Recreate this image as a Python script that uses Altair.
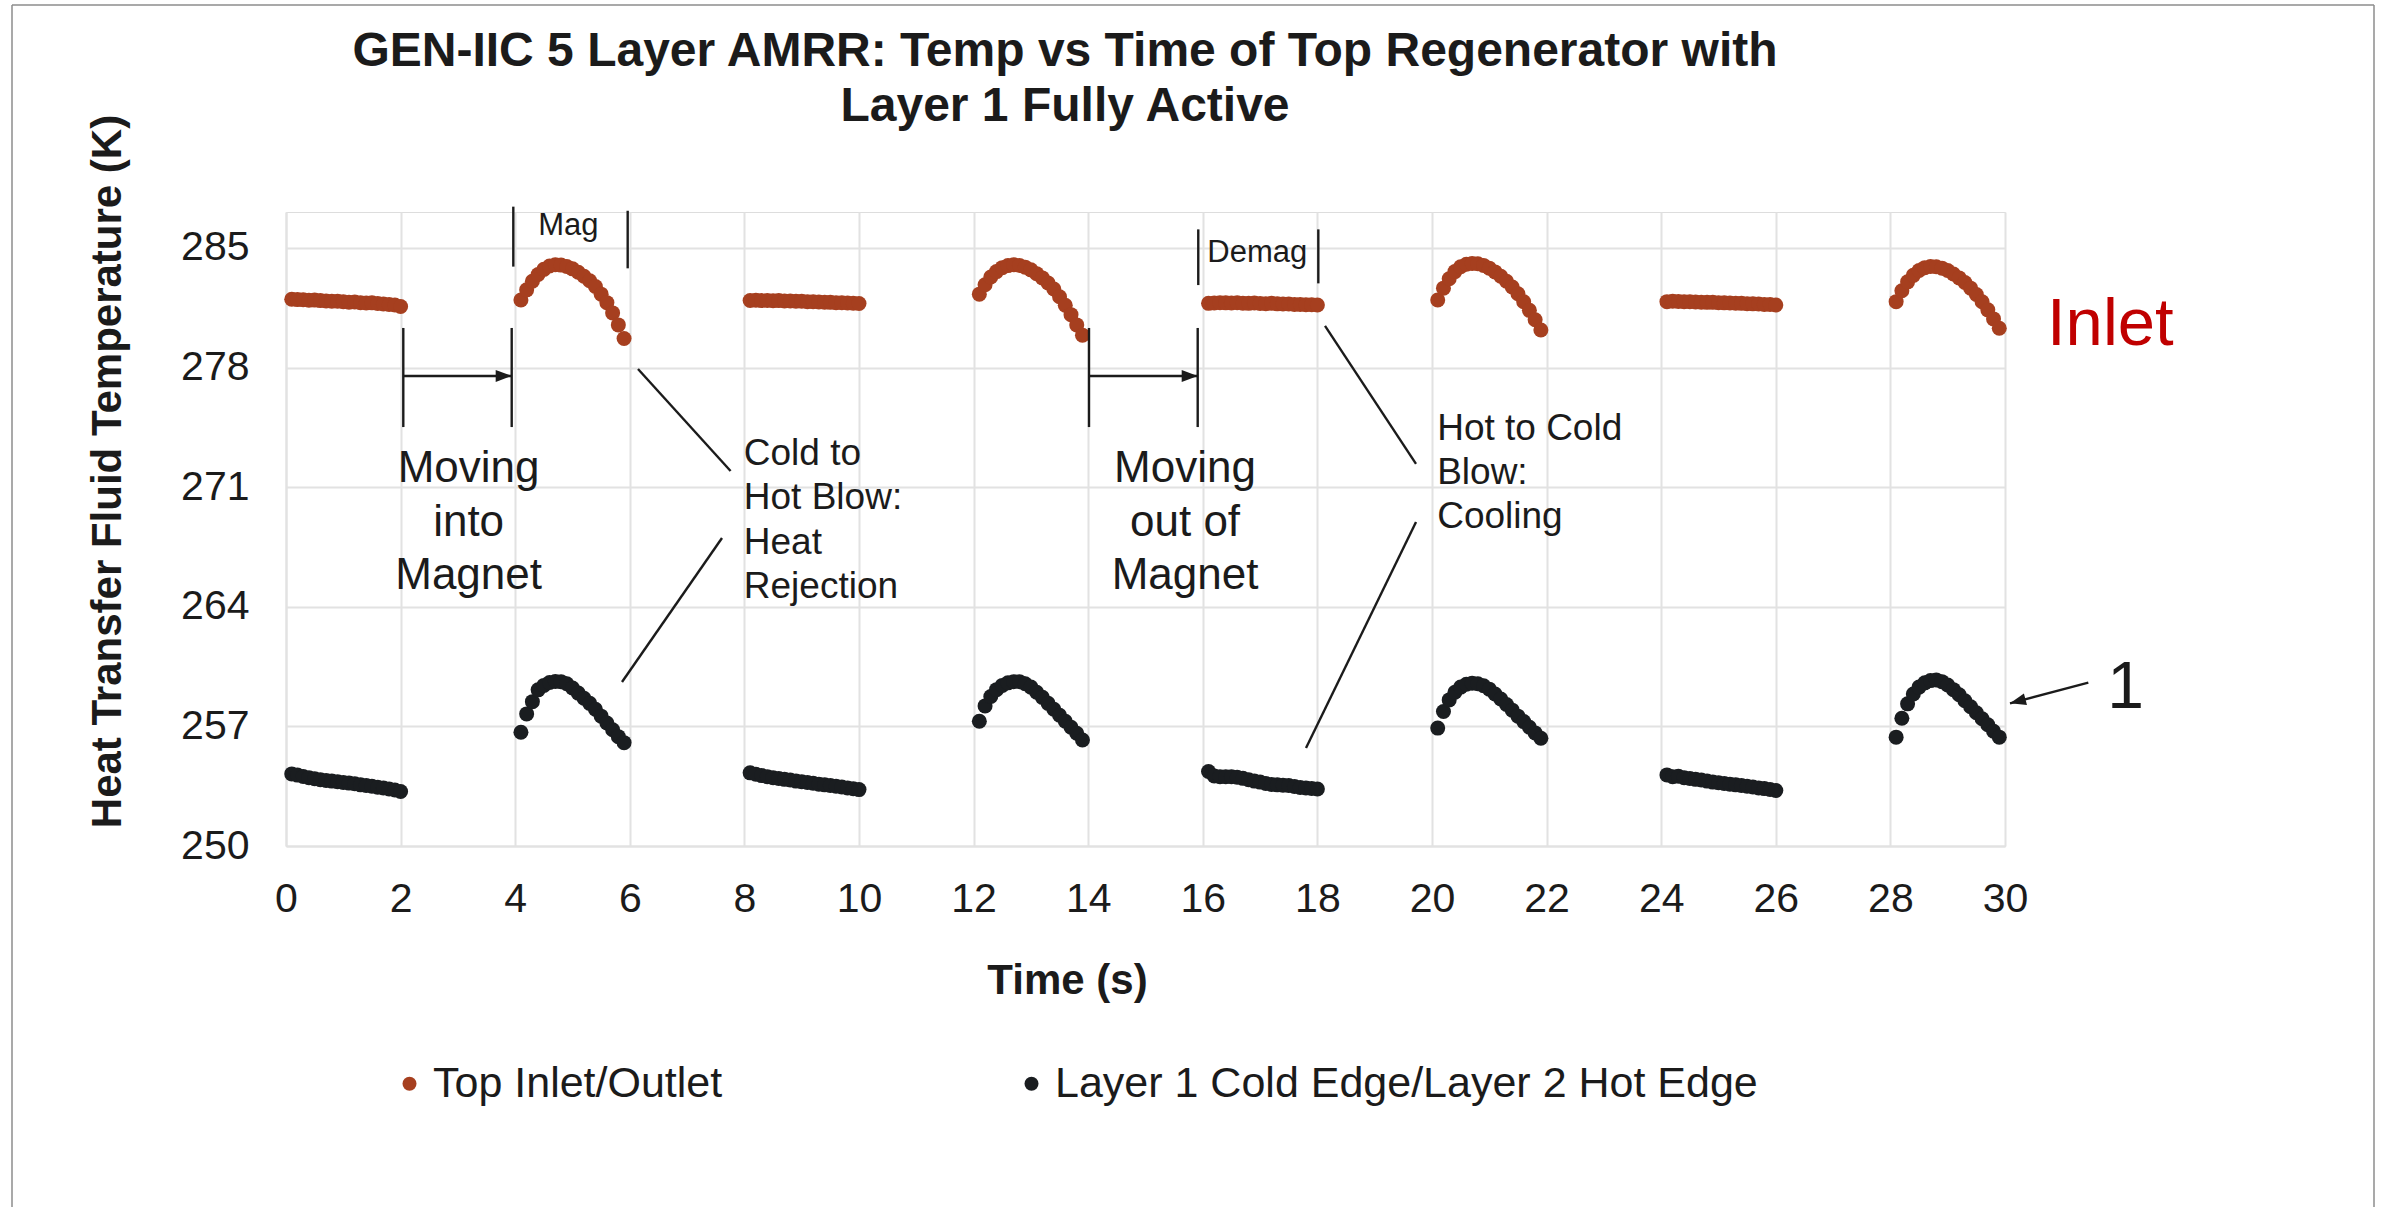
import altair as alt
import pandas as pd

FONT = "Liberation Sans, Arial, Helvetica, sans-serif"
INK = "#1b1b1b"
ORANGE = "#A63F1F"
BLACK = "#1A1D20"
RED = "#C00000"
GRID = "#E2E2E2"
FRAME = "#8C8C8C"

SERIES = ["Top Inlet/Outlet", "Layer 1 Cold Edge/Layer 2 Hot Edge"]
X_TICKS = [0, 2, 4, 6, 8, 10, 12, 14, 16, 18, 20, 22, 24, 26, 28, 30]
Y_TICKS = [250, 257, 264, 271, 278, 285]

TITLE_LINES = ["GEN-IIC 5 Layer AMRR: Temp vs Time of Top Regenerator with",
               "Layer 1 Fully Active"]

# Each 2 s blow period starts at one of these times; flat periods (hold) and
# peaked periods alternate.
SEGMENT_START = [0, 4, 8, 12, 16, 20, 24, 28]
FLAT_OFFSETS = [0.1, 0.2, 0.3, 0.4, 0.5, 0.6, 0.7, 0.8, 0.9, 1.0,
                1.1, 1.2, 1.3, 1.4, 1.5, 1.6, 1.7, 1.8, 1.9, 2.0]
PEAK_OFFSETS = [0.1, 0.2, 0.3, 0.4, 0.5, 0.6, 0.7, 0.8, 0.9, 1.0,
                1.1, 1.2, 1.3, 1.4, 1.5, 1.6, 1.7, 1.8, 1.9]

# Top inlet/outlet temperature (K)
TOP_0 = [282.00, 281.98, 281.97, 281.94, 281.95, 281.92, 281.90, 281.88, 281.89, 281.85,
         281.83, 281.84, 281.80, 281.78, 281.79, 281.75, 281.72, 281.70, 281.66, 281.58]
TOP_4 = [281.96, 282.55, 283.05, 283.45, 283.75, 283.95, 284.02, 284.00, 283.92, 283.78,
         283.58, 283.35, 283.08, 282.75, 282.30, 281.80, 281.20, 280.50, 279.70]
TOP_8 = [281.93, 281.94, 281.92, 281.93, 281.91, 281.92, 281.90, 281.90, 281.88, 281.89,
         281.86, 281.86, 281.84, 281.83, 281.82, 281.80, 281.80, 281.78, 281.77, 281.75]
TOP_12 = [282.30, 282.85, 283.30, 283.62, 283.85, 283.97, 284.02, 283.98, 283.88, 283.72,
          283.50, 283.25, 282.95, 282.60, 282.15, 281.65, 281.10, 280.50, 279.90]
TOP_16 = [281.76, 281.78, 281.80, 281.79, 281.78, 281.80, 281.77, 281.76, 281.78, 281.75,
          281.74, 281.76, 281.73, 281.72, 281.72, 281.70, 281.70, 281.68, 281.68, 281.66]
TOP_20 = [281.96, 282.65, 283.20, 283.62, 283.90, 284.05, 284.10, 284.08, 283.98, 283.82,
          283.60, 283.35, 283.05, 282.72, 282.32, 281.85, 281.35, 280.80, 280.20]
TOP_24 = [281.86, 281.88, 281.87, 281.85, 281.86, 281.84, 281.83, 281.82, 281.82, 281.80,
          281.79, 281.78, 281.77, 281.76, 281.74, 281.73, 281.72, 281.70, 281.69, 281.66]
TOP_28 = [281.86, 282.50, 283.02, 283.40, 283.68, 283.85, 283.92, 283.90, 283.82, 283.68,
          283.48, 283.25, 282.98, 282.65, 282.28, 281.85, 281.38, 280.85, 280.30]

# Layer 1 cold edge / layer 2 hot edge temperature (K)
L1_0 = [254.22, 254.15, 254.07, 254.00, 253.94, 253.88, 253.84, 253.80, 253.76, 253.72,
        253.68, 253.64, 253.58, 253.54, 253.50, 253.44, 253.40, 253.34, 253.28, 253.19]
L1_4 = [256.66, 257.73, 258.45, 259.14, 259.40, 259.57, 259.63, 259.62, 259.50, 259.25,
        258.95, 258.65, 258.35, 258.00, 257.60, 257.20, 256.80, 256.40, 256.05]
L1_8 = [254.28, 254.20, 254.12, 254.06, 254.00, 253.95, 253.90, 253.86, 253.80, 253.76,
        253.72, 253.67, 253.62, 253.58, 253.54, 253.50, 253.45, 253.40, 253.35, 253.30]
L1_12 = [257.30, 258.20, 258.75, 259.15, 259.40, 259.55, 259.62, 259.62, 259.50, 259.30,
         259.00, 258.70, 258.35, 258.00, 257.65, 257.30, 256.95, 256.60, 256.20]
L1_16 = [254.36, 254.10, 254.06, 254.05, 254.06, 254.02, 253.96, 253.88, 253.80, 253.74,
         253.66, 253.60, 253.58, 253.56, 253.54, 253.48, 253.42, 253.40, 253.37, 253.34]
L1_20 = [256.90, 257.87, 258.55, 259.00, 259.30, 259.47, 259.53, 259.50, 259.38, 259.18,
         258.90, 258.60, 258.28, 257.95, 257.60, 257.28, 256.95, 256.62, 256.31]
L1_24 = [254.16, 254.05, 254.08, 254.00, 253.95, 253.90, 253.86, 253.80, 253.74, 253.70,
         253.66, 253.62, 253.58, 253.54, 253.50, 253.45, 253.40, 253.36, 253.31, 253.25]
L1_28 = [256.37, 257.48, 258.32, 258.90, 259.30, 259.55, 259.68, 259.72, 259.62, 259.42,
         259.15, 258.85, 258.50, 258.15, 257.80, 257.45, 257.10, 256.72, 256.37]

TOP_SEGMENTS = [TOP_0, TOP_4, TOP_8, TOP_12, TOP_16, TOP_20, TOP_24, TOP_28]
L1_SEGMENTS = [L1_0, L1_4, L1_8, L1_12, L1_16, L1_20, L1_24, L1_28]

rows = []
for name, segments in zip(SERIES, [TOP_SEGMENTS, L1_SEGMENTS]):
    for i, (start, values) in enumerate(zip(SEGMENT_START, segments)):
        offsets = FLAT_OFFSETS if i % 2 == 0 else PEAK_OFFSETS
        for off, val in zip(offsets, values):
            rows.append({"series": name, "time": round(start + off, 2), "temp": val})
points = pd.DataFrame(rows)

# Annotation geometry, in data units (time s, temperature K)
LINE_X = [3.967, 5.963, 15.921, 18.016, 2.047, 3.939, 2.047, 14.014, 15.911, 14.014,
          6.143, 7.609, 18.133, 19.721, 31.454]
LINE_Y = [287.42, 287.18, 286.09, 286.09, 280.32, 280.32, 277.51, 280.32, 280.32, 277.51,
          277.92, 268.03, 280.44, 268.96, 259.56]
LINE_X2 = [3.967, 5.963, 15.921, 18.016, 2.047, 3.939, 3.939, 14.014, 15.911, 15.911,
           7.759, 5.864, 19.721, 17.801, 30.087]
LINE_Y2 = [283.91, 283.81, 282.83, 282.93, 274.52, 274.52, 277.51, 274.52, 274.52, 277.51,
           271.95, 259.60, 272.36, 255.74, 258.35]
lines = pd.DataFrame({"x": LINE_X, "y": LINE_Y, "x2": LINE_X2, "y2": LINE_Y2})

HEAD_X = [3.939, 15.911, 30.087]
HEAD_Y = [277.51, 277.51, 258.35]
HEAD_ANGLE = [0, 0, 165.2]
heads = pd.DataFrame({"x": HEAD_X, "y": HEAD_Y, "angle": HEAD_ANGLE})

PHASE_TEXT = ["Mag", "Demag"]
PHASE_X = [4.927, 16.951]
PHASE_Y = [285.76, 284.20]

MOVE_TEXT = ["Moving", "into", "Magnet", "Moving", "out of", "Magnet"]
MOVE_X = [3.187, 3.187, 3.187, 15.69, 15.69, 15.69]
MOVE_Y = [271.31, 268.14, 265.04, 271.31, 268.14, 265.04]

BLOW_TEXT = ["Cold to", "Hot Blow:", "Heat", "Rejection", "Hot to Cold", "Blow:", "Cooling"]
BLOW_X = [7.99, 7.99, 7.99, 7.99, 20.09, 20.09, 20.09]
BLOW_Y = [272.30, 269.70, 267.09, 264.52, 273.76, 271.19, 268.61]

# Title lines sit above the plot; placed on the same time/temperature scales
TITLE_X = [13.595, 13.595]
TITLE_Y = [295.65, 292.43]

x_scale = alt.Scale(domain=[0, 30], nice=False, zero=False)
y_scale = alt.Scale(domain=[250, 287.107], nice=False, zero=False)

x_axis = alt.Axis(
    values=X_TICKS, format="d", title="Time (s)", grid=True, ticks=False, tickSize=0,
    labelOverlap=False, labelFlush=False,
    labelFontSize=41, labelFont=FONT, labelColor=INK, labelPadding=33,
    titleFontSize=42, titleFont=FONT, titleFontWeight="bold", titleColor=INK,
    titleX=781, titleY=147, titleBaseline="alphabetic", titleAlign="center",
    domainColor=GRID, domainWidth=2, gridColor=GRID, gridWidth=2,
)
y_axis = alt.Axis(
    values=Y_TICKS, format="d", title="Heat Transfer Fluid Temperature (K)", grid=True,
    ticks=False, tickSize=0, labelOverlap=False, labelFlush=False,
    labelFontSize=41, labelFont=FONT, labelColor=INK,
    labelPadding=37, titleFontSize=42, titleFont=FONT, titleFontWeight="bold",
    titleColor=INK, titleX=-166, titleY=259, titleBaseline="alphabetic",
    titleAlign="center", titleAngle=270,
    domainColor=GRID, domainWidth=2, gridColor=GRID, gridWidth=2,
)

legend = alt.Legend(
    title=None, orient="none", direction="horizontal", legendX=102, legendY=850,
    symbolType="circle", symbolSize=196, symbolStrokeWidth=0, symbolOpacity=1,
    labelFontSize=43, labelFont=FONT, labelColor=INK, labelOffset=2,
    labelLimit=1200, columnPadding=287, padding=0,
)

scatter = alt.Chart(points).mark_circle(size=225, opacity=1).encode(
    x=alt.X("time:Q", scale=x_scale, axis=x_axis),
    y=alt.Y("temp:Q", scale=y_scale, axis=y_axis),
    color=alt.Color("series:N", scale=alt.Scale(domain=SERIES, range=[ORANGE, BLACK]),
                    legend=legend, sort=SERIES),
)

rules = alt.Chart(lines).mark_rule(color=INK, strokeWidth=2.4).encode(
    x="x:Q", y="y:Q", x2="x2:Q", y2="y2:Q"
)

arrowheads = alt.Chart(heads).mark_point(
    shape="M0,0L-2,-0.75L-2,0.75Z", size=256, filled=True, color=INK, opacity=1,
    strokeWidth=0,
).encode(x="x:Q", y="y:Q", angle=alt.Angle("angle:Q", scale=None))

title = alt.Chart(pd.DataFrame({"t": TITLE_LINES, "x": TITLE_X, "y": TITLE_Y})).mark_text(
    font=FONT, fontSize=48, fontWeight="bold", color=INK, align="center",
    baseline="alphabetic"
).encode(x="x:Q", y="y:Q", text="t:N")

phase = alt.Chart(pd.DataFrame({"t": PHASE_TEXT, "x": PHASE_X, "y": PHASE_Y})).mark_text(
    font=FONT, fontSize=31, color=INK, align="center", baseline="alphabetic"
).encode(x="x:Q", y="y:Q", text="t:N")

move = alt.Chart(pd.DataFrame({"t": MOVE_TEXT, "x": MOVE_X, "y": MOVE_Y})).mark_text(
    font=FONT, fontSize=44, color=INK, align="center", baseline="alphabetic"
).encode(x="x:Q", y="y:Q", text="t:N")

blow = alt.Chart(pd.DataFrame({"t": BLOW_TEXT, "x": BLOW_X, "y": BLOW_Y})).mark_text(
    font=FONT, fontSize=37, color=INK, align="left", baseline="alphabetic"
).encode(x="x:Q", y="y:Q", text="t:N")

inlet = alt.Chart(pd.DataFrame({"t": ["Inlet"], "x": [30.733], "y": [279.32]})).mark_text(
    font=FONT, fontSize=67, color=RED, align="left", baseline="alphabetic"
).encode(x="x:Q", y="y:Q", text="t:N")

layer_no = alt.Chart(pd.DataFrame({"t": ["1"], "x": [32.103], "y": [258.08]})).mark_text(
    font=FONT, fontSize=66, color=INK, align="center", baseline="alphabetic"
).encode(x="x:Q", y="y:Q", text="t:N")

# Outer frame of the chart area (left, top and right edges), in pixels from the plot origin
frame_left = alt.Chart().mark_rule(color=FRAME, strokeWidth=1.5).encode(
    x=alt.value(-274), y=alt.value(-207), y2=alt.value(1000))
frame_top = alt.Chart().mark_rule(color=FRAME, strokeWidth=1.5).encode(
    x=alt.value(-274), x2=alt.value(2088), y=alt.value(-207))
frame_right = alt.Chart().mark_rule(color=FRAME, strokeWidth=1.5).encode(
    x=alt.value(2088), y=alt.value(-207), y2=alt.value(1000))

chart = alt.layer(
    frame_left, frame_top, frame_right,
    scatter, rules, arrowheads, title, phase, move, blow, inlet, layer_no,
).properties(
    width=1719,
    height=634,
    autosize=alt.AutoSizeParams(type="none"),
    padding={"left": 286, "top": 212, "right": 386, "bottom": 361},
).configure_view(stroke=None).configure(background="white")

chart.save("out.html", embed_options={"renderer": "svg", "actions": False})
